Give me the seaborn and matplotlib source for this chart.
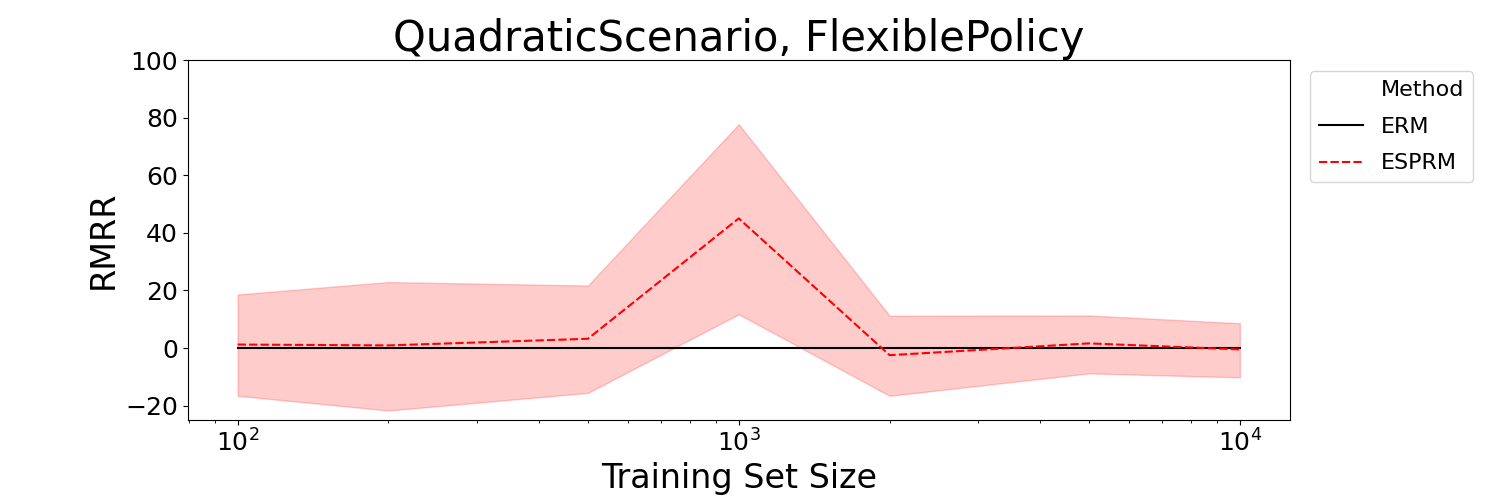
import matplotlib
matplotlib.use("Agg")
import matplotlib.pyplot as plt
import numpy as np
import pandas as pd
import seaborn as sns

# training set sizes
sizes = [100, 200, 500, 1000, 2000, 5000, 10000]

# RMRR values
erm_mean = [0, 0, 0, 0, 0, 0, 0]
esprm_mean = [1.2, 0.9, 3.2, 45.0, -2.5, 1.6, -0.5]
esprm_upper = [18.6, 22.9, 21.7, 77.7, 11.2, 11.3, 8.6]
esprm_lower = [-16.6, -21.7, -15.6, 11.7, -16.6, -8.8, -10.2]

methods = ["ERM", "ESPRM"]

df = pd.DataFrame({
    "Training Set Size": sizes * 2,
    "RMRR": erm_mean + esprm_mean,
    "Method": ["ERM"] * len(sizes) + ["ESPRM"] * len(sizes),
})

fig, ax = plt.subplots(figsize=(15, 5), dpi=100)
fig.subplots_adjust(left=0.125, right=0.86, top=0.88, bottom=0.16)

# band for ESPRM
ax.fill_between(sizes, esprm_lower, esprm_upper, color="red", alpha=0.2,
                linewidth=1)

sns.lineplot(data=df, x="Training Set Size", y="RMRR", hue="Method",
             style="Method", palette={"ERM": "black", "ESPRM": "red"},
             dashes={"ERM": "", "ESPRM": (4, 1.5)}, ax=ax, legend=False)

ax.set_xscale("log")
ax.set_ylim(-25, 100)
ax.set_title("QuadraticScenario, FlexiblePolicy", fontsize=30)
ax.set_xlabel("Training Set Size", fontsize=24)
ax.set_ylabel("RMRR", fontsize=24)
ax.tick_params(axis="both", which="major", labelsize=18)

# legend with title shown as a row
from matplotlib.lines import Line2D
handles = [Line2D([], [], color="none"),
           Line2D([], [], color="black", lw=1.5),
           Line2D([], [], color="red", lw=1.5, ls=(0, (4, 1.5)))]
labels = ["Method"] + methods
ax.legend(handles, labels, loc="upper left", bbox_to_anchor=(1.008, 1.0),
          fontsize=16, labelspacing=0.75)

plt.savefig("out.png")
